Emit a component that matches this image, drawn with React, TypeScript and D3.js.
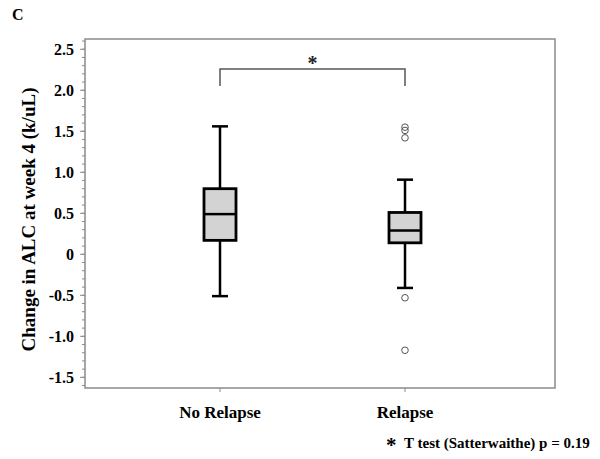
import React from "react";
import * as d3 from "d3";

const categories = ["No Relapse", "Relapse"];
const whiskerLow = [-0.51, -0.41];
const q1 = [0.17, 0.14];
const medians = [0.49, 0.29];
const q3 = [0.8, 0.51];
const whiskerHigh = [1.56, 0.91];
const outliers: number[][] = [[], [1.55, 1.51, 1.42, -0.53, -1.17]];
const yTicks = [-1.5, -1.0, -0.5, 0, 0.5, 1.0, 1.5, 2.0, 2.5];
const yTickLabels = ["-1.5", "-1.0", "-0.5", "0", "0.5", "1.0", "1.5", "2.0", "2.5"];
const minorTicks = d3.range(-16, 27).map((d) => d / 10);

const W = 600;
const H = 459;
const left = 85;
const right = 555;
const top = 39;
const bottom = 388;

export default function App() {
  const y = d3.scaleLinear().domain([-1.63, 2.625]).range([bottom, top]);
  const x = d3.scalePoint<string>().domain(categories).range([220, 405]);
  const serif = "'Liberation Serif', 'Times New Roman', serif";
  const boxW = 32;
  const capW = 16;
  const bracketY = 69;
  return (
    <svg width={W} height={H} style={{ position: "absolute", left: 0, top: 0, background: "#fff" }}>
      <text x={12} y={20} fontFamily={serif} fontWeight="bold" fontSize={16}>C</text>
      {/* frame */}
      <rect x={left} y={top} width={right - left} height={bottom - top} fill="none" stroke="#8a8a8a" strokeWidth={1.5} />
      {/* y ticks */}
      {minorTicks.map((t, i) => (
        <line key={"m" + i} x1={left - 3} x2={left} y1={y(t)} y2={y(t)} stroke="#8a8a8a" strokeWidth={1} />
      ))}
      {yTicks.map((t, i) => (
        <g key={"t" + i}>
          <line x1={left - 5} x2={left} y1={y(t)} y2={y(t)} stroke="#8a8a8a" strokeWidth={1} />
          <text x={74} y={y(t)} dy="0.35em" textAnchor="end" fontFamily={serif} fontWeight="bold" fontSize={16}>
            {yTickLabels[i]}
          </text>
        </g>
      ))}
      {/* x ticks */}
      {categories.map((c) => (
        <g key={c}>
          <line x1={x(c)} x2={x(c)} y1={bottom} y2={bottom + 4} stroke="#8a8a8a" strokeWidth={1} />
          <text x={x(c)} y={418} textAnchor="middle" fontFamily={serif} fontWeight="bold" fontSize={17}>
            {c}
          </text>
        </g>
      ))}
      <text
        transform={`translate(35, ${(top + bottom) / 2 + 6}) rotate(-90)`}
        textAnchor="middle"
        fontFamily={serif}
        fontWeight="bold"
        fontSize={19}
      >
        Change in ALC at week 4 (k/uL)
      </text>
      {/* boxes */}
      {categories.map((c, i) => {
        const cx = x(c)!;
        return (
          <g key={"b" + c}>
            <line x1={cx} x2={cx} y1={y(whiskerHigh[i])} y2={y(q3[i])} stroke="#000" strokeWidth={2.5} />
            <line x1={cx} x2={cx} y1={y(q1[i])} y2={y(whiskerLow[i])} stroke="#000" strokeWidth={2.5} />
            <line x1={cx - capW / 2} x2={cx + capW / 2} y1={y(whiskerHigh[i])} y2={y(whiskerHigh[i])} stroke="#000" strokeWidth={2.5} />
            <line x1={cx - capW / 2} x2={cx + capW / 2} y1={y(whiskerLow[i])} y2={y(whiskerLow[i])} stroke="#000" strokeWidth={2.5} />
            <rect
              x={cx - boxW / 2}
              y={y(q3[i])}
              width={boxW}
              height={y(q1[i]) - y(q3[i])}
              fill="#d3d3d3"
              stroke="#000"
              strokeWidth={2.8}
            />
            <line x1={cx - boxW / 2} x2={cx + boxW / 2} y1={y(medians[i])} y2={y(medians[i])} stroke="#000" strokeWidth={2.5} />
            {outliers[i].map((o, j) => (
              <circle key={j} cx={cx} cy={y(o)} r={3.3} fill="none" stroke="#555" strokeWidth={1} />
            ))}
          </g>
        );
      })}
      {/* significance bracket */}
      <path
        d={`M${x(categories[0])},${bracketY + 17} V${bracketY} H${x(categories[1])} V${bracketY + 17}`}
        fill="none"
        stroke="#555"
        strokeWidth={1.5}
      />
      <text x={((x(categories[0]) as number) + (x(categories[1]) as number)) / 2} y={70} textAnchor="middle" fontFamily={serif} fontWeight="bold" fontSize={20} fill="#222">
        *
      </text>
      <text x={386} y={452} fontFamily={serif} fontWeight="bold" fontSize={21}>*</text>
      <text x={404} y={448} fontFamily={serif} fontWeight="bold" fontSize={15}>T test (Satterwaithe) p = 0.19</text>
    </svg>
  );
}
